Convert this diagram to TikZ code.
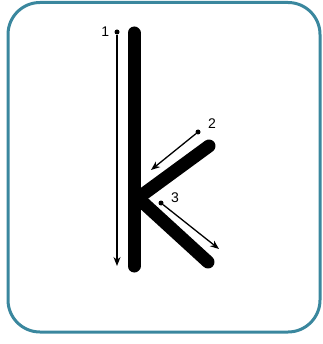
\documentclass[tikz,border=0pt]{standalone}
\usepackage{fontspec}
\setmainfont{Liberation Sans}
\usetikzlibrary{positioning,arrows.meta}
\definecolor{FrameTeal}{RGB}{58,135,158}
\tikzset{
  frame/.style={draw=FrameTeal,line width=3pt,rounded corners=32pt},
  stroke/.style={draw=black,line width=13pt,line cap=round},
  guide/.style={draw=black,line width=1.3pt,-{Stealth[length=9pt,width=7pt]}},
}
\tikzset{startdot/.style={circle,fill=black,inner sep=0pt,minimum size=5pt}, num/.style={inner sep=1pt,font=\fontsize{14}{16}\selectfont}}

\begin{document}
\begin{tikzpicture}[x=1pt,y=-1pt]
\useasboundingbox (0,0) rectangle (322,344);
\draw[frame] (8,2.5) rectangle (320,332);
% letter k
\coordinate (stemtop) at (134,33);
\coordinate (stembot) at (134,266);
\coordinate (joint) at (138,198);
\coordinate (armtop) at (209,146);
\coordinate (legend) at (208,262);
\draw[stroke] (stemtop)--(stembot);
\draw[stroke] (joint)--(armtop);
\draw[stroke] (joint)--(legend);
% guides
\node[startdot] (s1) at (117,32) {};
\node[startdot] (s2) at (198,132) {};
\node[startdot] (s3) at (161,203) {};
\coordinate (e1) at (117,266);
\coordinate (e2) at (151,170);
\coordinate (e3) at (219,249);
\draw[guide] (s1)--(e1);
\draw[guide] (s2)--(e2);
\draw[guide] (s3)--(e3);
\node[num,left=4pt of s1] (n1) {1};
\node[num] (n2) at (212,124) {2};
\node[num] (n3) at (175,198) {3};
\end{tikzpicture}
\end{document}
